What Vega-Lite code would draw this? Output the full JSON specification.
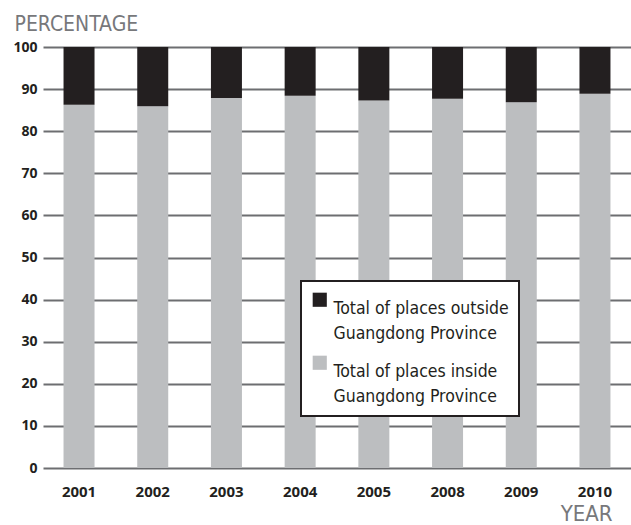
{
  "$schema": "https://vega.github.io/schema/vega-lite/v6.json",
  "autosize": "none",
  "width": 588,
  "height": 421,
  "padding": {"left": 43, "top": 47, "right": 0, "bottom": 57},
  "background": "white",
  "config": {"view": {"stroke": null}},
  "data": {"values": [
    {"year": "2001", "series": "Total of places inside Guangdong Province", "pct": 86.3},
    {"year": "2001", "series": "Total of places outside Guangdong Province", "pct": 13.7},
    {"year": "2002", "series": "Total of places inside Guangdong Province", "pct": 85.9},
    {"year": "2002", "series": "Total of places outside Guangdong Province", "pct": 14.1},
    {"year": "2003", "series": "Total of places inside Guangdong Province", "pct": 87.9},
    {"year": "2003", "series": "Total of places outside Guangdong Province", "pct": 12.1},
    {"year": "2004", "series": "Total of places inside Guangdong Province", "pct": 88.4},
    {"year": "2004", "series": "Total of places outside Guangdong Province", "pct": 11.6},
    {"year": "2005", "series": "Total of places inside Guangdong Province", "pct": 87.3},
    {"year": "2005", "series": "Total of places outside Guangdong Province", "pct": 12.7},
    {"year": "2008", "series": "Total of places inside Guangdong Province", "pct": 87.7},
    {"year": "2008", "series": "Total of places outside Guangdong Province", "pct": 12.3},
    {"year": "2009", "series": "Total of places inside Guangdong Province", "pct": 86.9},
    {"year": "2009", "series": "Total of places outside Guangdong Province", "pct": 13.1},
    {"year": "2010", "series": "Total of places inside Guangdong Province", "pct": 88.9},
    {"year": "2010", "series": "Total of places outside Guangdong Province", "pct": 11.1}
  ]},
  "mark": {"type": "bar"},
  "encoding": {
    "x": {
      "field": "year", "type": "ordinal",
      "scale": {"paddingInner": 0.5794, "paddingOuter": 0.2786},
      "axis": {
        "title": "YEAR", "titleFont": "DejaVu Sans Condensed", "titleFontSize": 22, "titleFontWeight": "normal", "titleColor": "#77787b",
        "titleX": 569, "titleY": 57, "titleAlign": "right", "titleBaseline": "bottom", "titleAnchor": null,
        "labelAngle": 0, "labelFont": "Open Sans", "labelFontSize": 15, "labelFontWeight": "bold", "labelColor": "#231f20",
        "ticks": false, "domain": false, "labelPadding": 16, "labelBaseline": "top", "grid": false
      }
    },
    "y": {
      "field": "pct", "type": "quantitative", "stack": "zero",
      "scale": {"domain": [0, 100], "nice": false},
      "axis": {
        "title": "PERCENTAGE", "titleFont": "DejaVu Sans Condensed", "titleFontSize": 21, "titleFontWeight": "normal", "titleColor": "#77787b",
        "titleAngle": 0, "titleX": -29, "titleY": -17, "titleAlign": "left", "titleBaseline": "alphabetic", "titleAnchor": null,
        "values": [0, 10, 20, 30, 40, 50, 60, 70, 80, 90, 100],
        "labelFont": "Open Sans", "labelFontSize": 14, "labelFontWeight": "bold", "labelColor": "#231f20",
        "ticks": false, "domain": false, "labelPadding": 6,
        "grid": true, "gridColor": "#6d6e71", "gridWidth": 2, "gridOpacity": 1
      }
    },
    "color": {
      "field": "series", "type": "nominal",
      "scale": {"domain": ["Total of places outside Guangdong Province", "Total of places inside Guangdong Province"], "range": ["#231f20", "#bcbec0"]},
      "legend": {
        "title": null, "orient": "none", "legendX": 258, "legendY": 234,
        "strokeColor": "#231f20", "fillColor": "white", "padding": 10,
        "symbolType": "square", "symbolSize": 200, "symbolStrokeWidth": 0, "symbolOpacity": 1,
        "labelFont": "DejaVu Sans Condensed", "labelFontSize": 17.5, "labelColor": "#231f20", "labelLimit": 300,
        "labelBaseline": "top", "labelOffset": 5, "rowPadding": 11,
        "labelExpr": "datum.label == 'Total of places outside Guangdong Province' ? ['Total of places outside', 'Guangdong Province'] : ['Total of places inside', 'Guangdong Province']",
        "encode": {"labels": {"update": {"lineHeight": {"value": 25}}}, "legend": {"update": {"strokeWidth": {"value": 2}}}}
      }
    },
    "order": {"field": "series", "sort": "ascending"}
  }
}
